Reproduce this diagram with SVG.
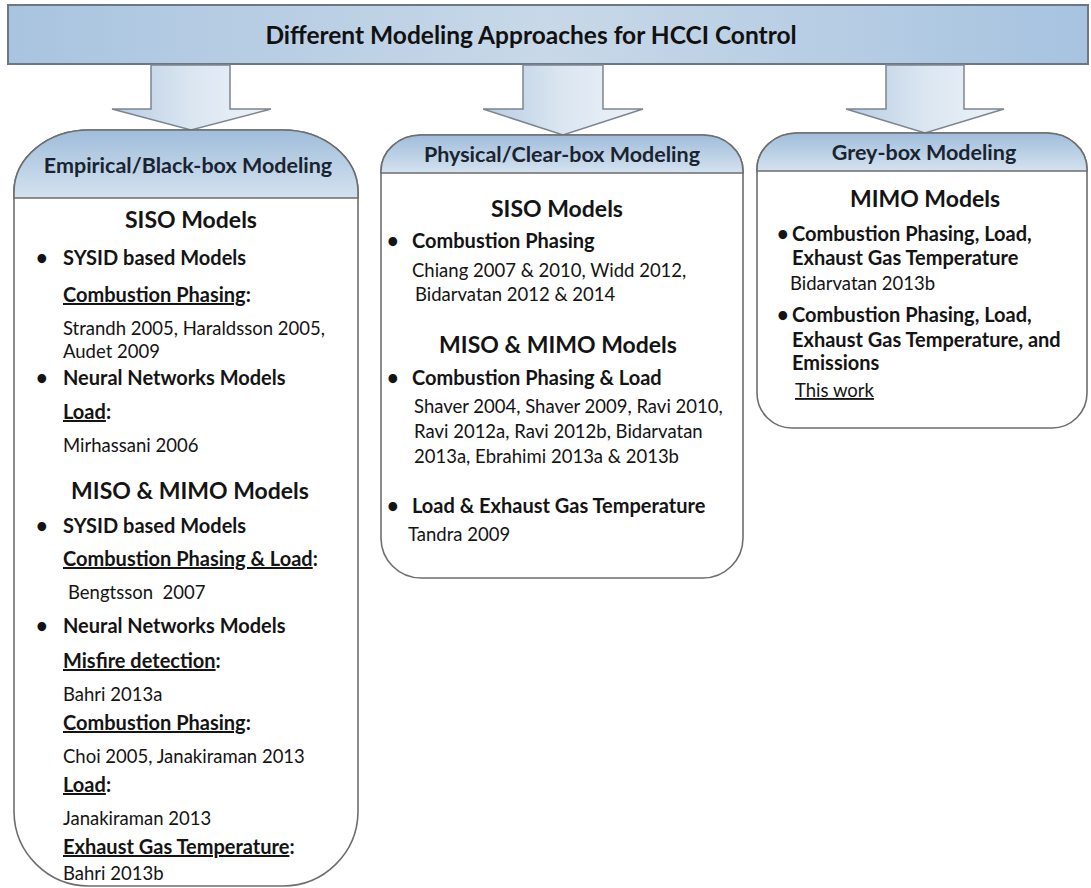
<svg xmlns="http://www.w3.org/2000/svg" width="1091" height="888" viewBox="0 0 1091 888">
<defs>
<linearGradient id="titleGrad" x1="0" y1="0" x2="1" y2="0">
<stop offset="0" stop-color="#a9c4e0"/>
<stop offset="0.5" stop-color="#c8d8e8"/>
<stop offset="1" stop-color="#a7c3e0"/>
</linearGradient>
<linearGradient id="arrowGrad" x1="0" y1="0" x2="1" y2="0">
<stop offset="0" stop-color="#b7cce3"/>
<stop offset="0.5" stop-color="#dbe6f1"/>
<stop offset="1" stop-color="#edf2f8"/>
</linearGradient>
<linearGradient id="headGrad" x1="0" y1="0" x2="0" y2="1">
<stop offset="0" stop-color="#a0bddb"/>
<stop offset="1" stop-color="#d4e2ef"/>
</linearGradient>
<style>
text{font-family:Lato,"Open Sans","Liberation Sans",sans-serif;fill:#141414}
.t{font-size:24.5px;font-weight:bold;fill:#111}
.h{font-size:21.5px;font-weight:bold;fill:#1a2330}
.g{font-size:23px;font-weight:bold}
.b{font-size:20px;font-weight:bold}
.r{font-size:18.5px}
.u{text-decoration:underline}
.box{fill:#fff;stroke:#6e6e6e;stroke-width:1.6}
.hdr{fill:url(#headGrad);stroke:#6e6e6e;stroke-width:1.6}
.arrow{fill:url(#arrowGrad);stroke:#7c8590;stroke-width:1.5}
.mid{text-anchor:middle}
</style>
</defs>

<g id="title">
<rect x="8" y="5" width="1080" height="59" fill="url(#titleGrad)" stroke="#6c7784" stroke-width="2"/>
<text class="t mid" x="531" y="44">Different Modeling Approaches for HCCI Control</text>
</g>

<g id="connectors">
<path class="arrow" d="M151,65 L230,65 L230,109 L271,109 L191,130 L112,109 L151,109 Z"/>
<path class="arrow" d="M523,65 L603,65 L603,109 L643,109 L563,135 L483,109 L523,109 Z"/>
<path class="arrow" d="M886,65 L964,65 L964,109 L1004,109 L925,133 L846,109 L886,109 Z"/>
</g>

<g id="empirical">
<path class="box" d="M14,192 A75,62 0 0 1 89,130 L283,130 A75,62 0 0 1 358,192 L358,812 A75,75 0 0 1 283,886 L89,886 A75,75 0 0 1 14,812 Z"/>
<path class="hdr" d="M14,198 L14,192 A75,62 0 0 1 89,130 L283,130 A75,62 0 0 1 358,192 L358,198 Z"/>
<text class="h mid" x="188" y="173">Empirical/Black-box Modeling</text>
<text class="g mid" x="191" y="228">SISO Models</text>
<text class="b" x="36" y="265">•</text>
<text class="b" x="63" y="265">SYSID based Models</text>
<text class="b" x="63" y="302"><tspan class="u">Combustion Phasing</tspan>:</text>
<text class="r" x="63" y="335">Strandh 2005, Haraldsson 2005,</text>
<text class="r" x="63" y="358">Audet 2009</text>
<text class="b" x="36" y="385">•</text>
<text class="b" x="63" y="385">Neural Networks Models</text>
<text class="b" x="63" y="419"><tspan class="u">Load</tspan>:</text>
<text class="r" x="63" y="452">Mirhassani 2006</text>
<text class="g mid" x="190" y="499">MISO &amp; MIMO Models</text>
<text class="b" x="36" y="533">•</text>
<text class="b" x="63" y="533">SYSID based Models</text>
<text class="b" x="63" y="566"><tspan class="u">Combustion Phasing &amp; Load</tspan>:</text>
<text class="r" x="68" y="599" style="white-space:pre">Bengtsson  2007</text>
<text class="b" x="36" y="633">•</text>
<text class="b" x="63" y="633">Neural Networks Models</text>
<text class="b" x="63" y="668"><tspan class="u">Misfire detection</tspan>:</text>
<text class="r" x="63" y="701">Bahri 2013a</text>
<text class="b" x="63" y="730"><tspan class="u">Combustion Phasing</tspan>:</text>
<text class="r" x="63" y="763">Choi 2005, Janakiraman 2013</text>
<text class="b" x="63" y="792"><tspan class="u">Load</tspan>:</text>
<text class="r" x="63" y="825">Janakiraman 2013</text>
<text class="b" x="63" y="854"><tspan class="u">Exhaust Gas Temperature</tspan>:</text>
<text class="r" x="63" y="880">Bahri 2013b</text>
</g>

<g id="physical">
<path class="box" d="M381,171 A40,36 0 0 1 421,135 L703,135 A40,36 0 0 1 743,171 L743,538 A40,40 0 0 1 703,578 L421,578 A40,40 0 0 1 381,538 Z"/>
<path class="hdr" d="M381,173 L381,171 A40,36 0 0 1 421,135 L703,135 A40,36 0 0 1 743,171 L743,173 Z"/>
<text class="h mid" x="562" y="162">Physical/Clear-box Modeling</text>
<text class="g mid" x="557" y="217">SISO Models</text>
<text class="b" x="387" y="248">•</text>
<text class="b" x="412" y="248">Combustion Phasing</text>
<text class="r" x="412" y="277">Chiang 2007 &amp; 2010, Widd 2012,</text>
<text class="r" x="415" y="301">Bidarvatan 2012 &amp; 2014</text>
<text class="g mid" x="558" y="353">MISO &amp; MIMO Models</text>
<text class="b" x="387" y="385">•</text>
<text class="b" x="412" y="385">Combustion Phasing &amp; Load</text>
<text class="r" x="414" y="413">Shaver 2004, Shaver 2009, Ravi 2010,</text>
<text class="r" x="414" y="438">Ravi 2012a, Ravi 2012b, Bidarvatan</text>
<text class="r" x="414" y="463">2013a, Ebrahimi 2013a &amp; 2013b</text>
<text class="b" x="387" y="513">•</text>
<text class="b" x="412" y="513">Load &amp; Exhaust Gas Temperature</text>
<text class="r" x="408" y="541">Tandra 2009</text>
</g>

<g id="greybox">
<path class="box" d="M757,169 A40,36 0 0 1 797,133 L1047,133 A40,36 0 0 1 1087,169 L1087,393 A35,35 0 0 1 1052,428 L792,428 A35,35 0 0 1 757,393 Z"/>
<path class="hdr" d="M757,171 L757,169 A40,36 0 0 1 797,133 L1047,133 A40,36 0 0 1 1087,169 L1087,171 Z"/>
<text class="h mid" x="924" y="160">Grey-box Modeling</text>
<text class="g mid" x="925" y="207">MIMO Models</text>
<text class="b" x="777" y="241">•</text>
<text class="b" x="792" y="241">Combustion Phasing, Load,</text>
<text class="b" x="792" y="265">Exhaust Gas Temperature</text>
<text class="r" x="790" y="290">Bidarvatan 2013b</text>
<text class="b" x="777" y="322">•</text>
<text class="b" x="792" y="322">Combustion Phasing, Load,</text>
<text class="b" x="792" y="347">Exhaust Gas Temperature, and</text>
<text class="b" x="792" y="370">Emissions</text>
<text class="r u" x="795" y="397">This work</text>
</g>
</svg>
